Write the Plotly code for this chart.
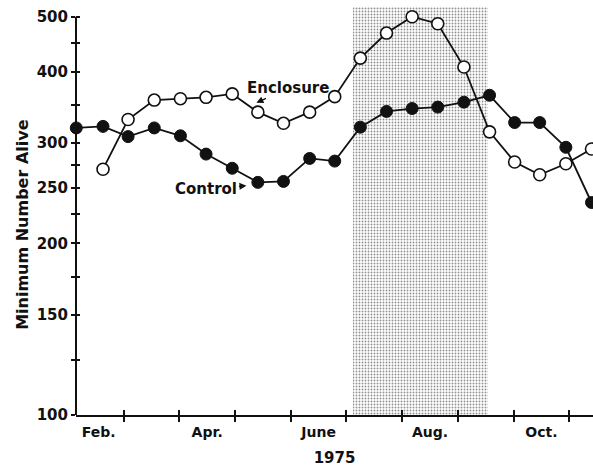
import math
import plotly.graph_objects as go

# ---- data ----
# sampling times in months since 1 Jan 1975 (2.0 = 1 March)
sample_month = [1.15, 1.63, 2.08, 2.55, 3.02, 3.48, 3.95, 4.41, 4.87, 5.34, 5.79,
                6.25, 6.72, 7.18, 7.64, 8.11, 8.57, 9.02, 9.47, 9.94, 10.40]
control = [319, 321, 308, 319, 309, 287, 271, 256, 257, 282, 279,
           320, 341, 345, 347, 354, 364, 326, 326, 295, 236]
enclosure = [None, 270, 330, 357, 359, 361, 366, 340, 325, 340, 362,
             423, 468, 500, 486, 408, 314, 278, 264, 276, 293]

# shaded period (months) and its top (number alive)
shade_start, shade_end = 6.12, 8.55
shade_bottom, shade_top = 100, 520

# axis ticks
month_starts = [2, 3, 4, 5, 6, 7, 8, 9, 10]
month_label_pos = [1.55, 3.5, 5.5, 7.5, 9.5]
month_labels = ["Feb.", "Apr.", "June", "Aug.", "Oct."]
y_major = [100, 150, 200, 250, 300, 400, 500]
y_minor = [125, 175, 225, 275, 350, 450]

x_range = [1.145, 10.427]
y_range = [math.log10(100), math.log10(520)]

FONT = "DejaVu Sans"
INK = "#111111"


def font(size):
    return dict(family=FONT, size=size, color=INK, weight="bold")


fig = go.Figure()

# stippled period
fig.add_trace(go.Bar(
    x=[(shade_start + shade_end) / 2], width=[shade_end - shade_start],
    base=[shade_bottom], y=[shade_top - shade_bottom],
    marker=dict(color="white", line=dict(width=0),
                pattern=dict(shape=".", fgcolor="#222222", bgcolor="white",
                             size=3, solidity=0.3)),
    hoverinfo="skip", showlegend=False,
))

fig.add_trace(go.Scatter(
    x=sample_month, y=enclosure, mode="lines+markers", name="Enclosure",
    line=dict(color=INK, width=1.8),
    marker=dict(size=12, color="white", line=dict(color=INK, width=1.6)),
    showlegend=False, connectgaps=False, cliponaxis=False,
))
fig.add_trace(go.Scatter(
    x=sample_month, y=control, mode="lines+markers", name="Control",
    line=dict(color=INK, width=1.8),
    marker=dict(size=12, color=INK, line=dict(color=INK, width=1)),
    showlegend=False, cliponaxis=False,
))

# dummy trace for the overlay axes (used to draw inward half of crossing ticks)
fig.add_trace(go.Scatter(
    x=[sample_month[1]], y=[control[1]], xaxis="x2", yaxis="y2",
    mode="markers", marker=dict(opacity=0), hoverinfo="skip", showlegend=False,
))

fig.update_layout(
    width=593, height=471,
    margin=dict(l=76, r=0, t=7, b=56, autoexpand=False),
    paper_bgcolor="white", plot_bgcolor="white",
    bargap=0,
    xaxis=dict(
        range=x_range, tickmode="array", tickvals=month_label_pos,
        ticktext=month_labels, ticks="", tickfont=font(14), automargin=False,
        ticklabelstandoff=3,
        showline=True, linecolor=INK, linewidth=2,
        showgrid=False, zeroline=False,
        minor=dict(tickmode="array", tickvals=month_starts, ticks="outside",
                   ticklen=5, tickwidth=2, tickcolor=INK, showgrid=False),
        title=dict(text="1975", font=font(15), standoff=14),
    ),
    xaxis2=dict(
        range=x_range, overlaying="x", anchor="y2", side="bottom",
        tickmode="array", tickvals=month_starts, ticks="inside",
        ticklen=5, tickwidth=2, tickcolor=INK, showticklabels=False,
        showline=False, showgrid=False, zeroline=False, automargin=False,
    ),
    yaxis=dict(
        type="log", range=y_range, tickmode="array", tickvals=y_major,
        ticktext=[str(v) for v in y_major], ticks="outside", ticklen=4,
        tickwidth=2, tickcolor=INK, tickfont=font(15), automargin=False,
        showline=False, showgrid=False, zeroline=False,
        minor=dict(tickmode="array", tickvals=y_minor, ticks="outside",
                   ticklen=4, tickwidth=2, tickcolor=INK, showgrid=False),
    ),
    yaxis2=dict(
        type="log", range=y_range, overlaying="y", anchor="x2", side="left",
        tickmode="array", tickvals=y_major + y_minor, ticks="inside",
        ticklen=4, tickwidth=2, tickcolor=INK, showticklabels=False,
        showline=False, showgrid=False, zeroline=False, automargin=False,
    ),
    shapes=[dict(type="line", xref="paper", x0=0, x1=0, yref="y",
                 y0=y_major[0], y1=y_major[-1],
                 line=dict(color=INK, width=2), layer="above")],
    annotations=[
        dict(x=0, y=0.466, xref="paper", yref="paper", xshift=-53,
             text="Minimum Number Alive", textangle=-90, showarrow=False,
             xanchor="center", yanchor="middle", font=font(16)),
        dict(x=4.384, y=math.log10(353), xref="x", yref="y",
             text="Enclosure", showarrow=True, ax=32, ay=-15,
             arrowhead=2, arrowsize=1, arrowwidth=1.4, arrowcolor=INK,
             font=font(15)),
        dict(x=4.205, y=math.log10(252.5), xref="x", yref="y",
             text="Control", showarrow=True, ax=-40, ay=3,
             arrowhead=2, arrowsize=1, arrowwidth=1.4, arrowcolor=INK,
             font=font(15)),
    ],
)

fig.write_html("out.html", config={"displayModeBar": False},
               post_script="document.body.style.margin='0';")
